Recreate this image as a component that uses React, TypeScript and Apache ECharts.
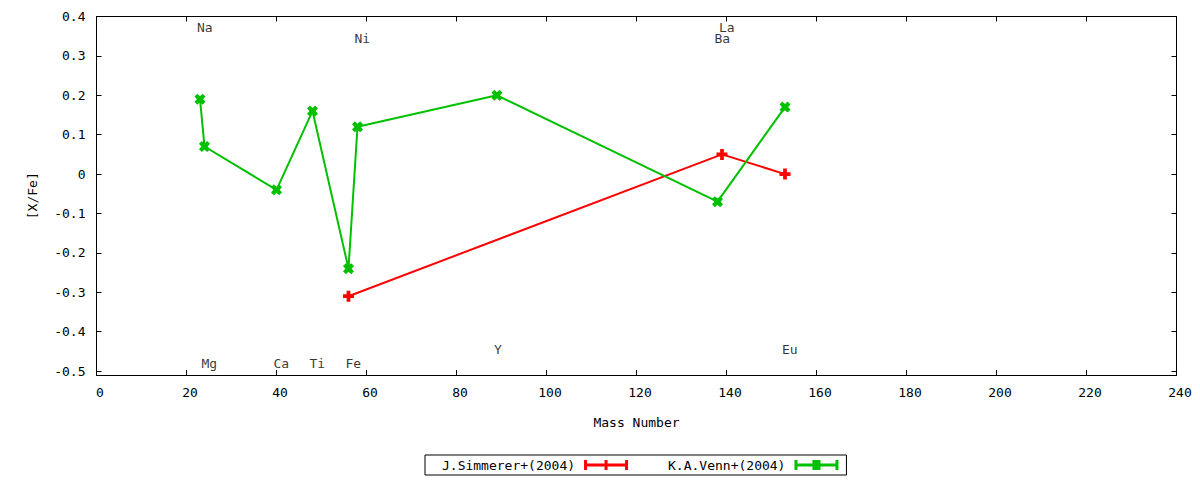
import React, { useEffect, useRef } from "react";
import * as echarts from "echarts";

const simmMass = [56, 139, 153];
const simmVals = [-0.31, 0.05, 0];
const vennMass = [23, 24, 40, 48, 56, 58, 89, 138, 153];
const vennVals = [0.19, 0.07, -0.04, 0.16, -0.24, 0.12, 0.2, -0.07, 0.17];
const elemNames = ["Na", "Mg", "Ca", "Ti", "Fe", "Ni", "Y", "Ba", "La", "Eu"];
const elemMass = [23, 24, 40, 48, 56, 58, 89, 138, 139, 153];
const elemLabelY = [0.372, -0.48, -0.48, -0.48, -0.48, 0.345, -0.445, 0.345, 0.372, -0.445];
const yTickValues = [-0.5, -0.4, -0.3, -0.2, -0.1, 0, 0.1, 0.2, 0.3, 0.4];
const seriesNames = ["J.Simmerer+(2004)", "K.A.Venn+(2004)"];

const FONT = "DejaVu Sans Mono";
const RED = "#ff0000";
const GREEN = "#00c000";

const plusPath = "path://M3.3,0H6.7V3.3H10V6.7H6.7V10H3.3V6.7H0V3.3H3.3Z";
const crossPath = "path://M0,2.6L2.6,0L5,2.2L7.4,0L10,2.6L7.8,5L10,7.4L7.4,10L5,7.8L2.6,10L0,7.4L2.2,5Z";
const legendRed = "path://M0,0H3V3.5H20.5V0H23.5V3.5H41V0H44V10H41V6.5H23.5V10H20.5V6.5H3V10H0Z";
const legendGreen = "path://M0,0H3V3.5H18V0H26V3.5H41V0H44V10H41V6.5H26V10H18V6.5H3V10H0Z";

const fmtY = (v: number) => (Math.abs(v) < 1e-9 ? "0" : v.toFixed(1));

export default function App() {
  const ref = useRef<HTMLDivElement>(null);
  useEffect(() => {
    if (!ref.current) return;
    const chart = echarts.init(ref.current, undefined, { renderer: "svg" });
    const axisLine = { show: true, onZero: false, lineStyle: { color: "#000", width: 1 } };
    const option: any = {
      animation: false,
      backgroundColor: "#fff",
      textStyle: { fontFamily: FONT },
      grid: { left: 96.5, right: 23.5, top: 16.5, bottom: 105 },
      legend: {
        left: 425,
        top: 455,
        align: "right",
        orient: "horizontal",
        itemWidth: 44,
        itemHeight: 10,
        itemGap: 40,
        padding: [3, 8, 3, 17],
        borderColor: "#000",
        borderWidth: 1,
        borderRadius: 0,
        textStyle: { fontFamily: FONT, fontSize: 13, color: "#000", lineHeight: 14, padding: [0, 4, 0, 0] },
        data: [
          { name: seriesNames[0], icon: legendRed },
          { name: seriesNames[1], icon: legendGreen },
        ],
      },
      xAxis: [
        {
          type: "value",
          min: 0,
          max: 240,
          interval: 20,
          position: "bottom",
          name: "Mass Number",
          nameLocation: "middle",
          nameGap: 41,
          nameTextStyle: { fontFamily: FONT, fontSize: 13, color: "#000" },
          axisLine,
          axisTick: { show: true, inside: true, length: 5, lineStyle: { color: "#000" } },
          axisLabel: { fontFamily: FONT, fontSize: 13, color: "#000", margin: 11, padding: [0, 0, 0, 7] },
          splitLine: { show: false },
        },
        {
          type: "value",
          min: 0,
          max: 240,
          interval: 20,
          position: "top",
          axisLine,
          axisTick: { show: true, inside: true, length: 5, lineStyle: { color: "#000" } },
          axisLabel: { show: false },
          splitLine: { show: false },
        },
      ],
      yAxis: [
        {
          type: "value",
          min: -0.51,
          max: 0.4,
          position: "left",
          name: "[X/Fe]",
          nameLocation: "middle",
          nameGap: 58,
          nameTextStyle: { fontFamily: FONT, fontSize: 13, color: "#000" },
          axisLine,
          axisTick: { show: true, inside: true, length: 5, customValues: yTickValues, lineStyle: { color: "#000" } },
          axisLabel: {
            fontFamily: FONT,
            fontSize: 13,
            color: "#000",
            margin: 11,
            customValues: yTickValues,
            formatter: fmtY,
          },
          splitLine: { show: false },
        },
        {
          type: "value",
          min: -0.51,
          max: 0.4,
          position: "right",
          axisLine,
          axisTick: { show: true, inside: true, length: 5, customValues: yTickValues, lineStyle: { color: "#000" } },
          axisLabel: { show: false, customValues: yTickValues },
          splitLine: { show: false },
        },
      ],
      series: [
        {
          name: seriesNames[0],
          type: "line",
          xAxisIndex: 0,
          yAxisIndex: 0,
          data: simmMass.map((m, i) => [m, simmVals[i]]),
          symbol: plusPath,
          symbolSize: 11,
          showAllSymbol: true,
          color: RED,
          itemStyle: { color: RED },
          lineStyle: { color: RED, width: 2 },
          emphasis: { disabled: true },
        },
        {
          name: seriesNames[1],
          type: "line",
          xAxisIndex: 0,
          yAxisIndex: 0,
          data: vennMass.map((m, i) => [m, vennVals[i]]),
          symbol: crossPath,
          symbolSize: 11,
          showAllSymbol: true,
          color: GREEN,
          itemStyle: { color: GREEN },
          lineStyle: { color: GREEN, width: 2 },
          emphasis: { disabled: true },
        },
        {
          name: "elements",
          type: "scatter",
          xAxisIndex: 0,
          yAxisIndex: 0,
          data: elemMass.map((m, i) => [m, elemLabelY[i], elemNames[i]]),
          symbol: "rect",
          symbolSize: 2,
          itemStyle: { color: "rgba(0,0,0,0)" },
          label: {
            show: true,
            position: [-2, 1],
            align: "left",
            verticalAlign: "middle",
            formatter: (p: any) => p.value[2],
            fontFamily: FONT,
            fontSize: 13,
            color: "#000",
            textBorderWidth: 0,
          },
          labelLayout: { hideOverlap: false },
          emphasis: { disabled: true },
          silent: true,
        },
      ],
    };
    chart.setOption(option);
    return () => chart.dispose();
  }, []);
  return (
    <div
      ref={ref}
      style={{ position: "absolute", left: 0, top: 0, width: 1200, height: 480, background: "#fff" }}
    />
  );
}
